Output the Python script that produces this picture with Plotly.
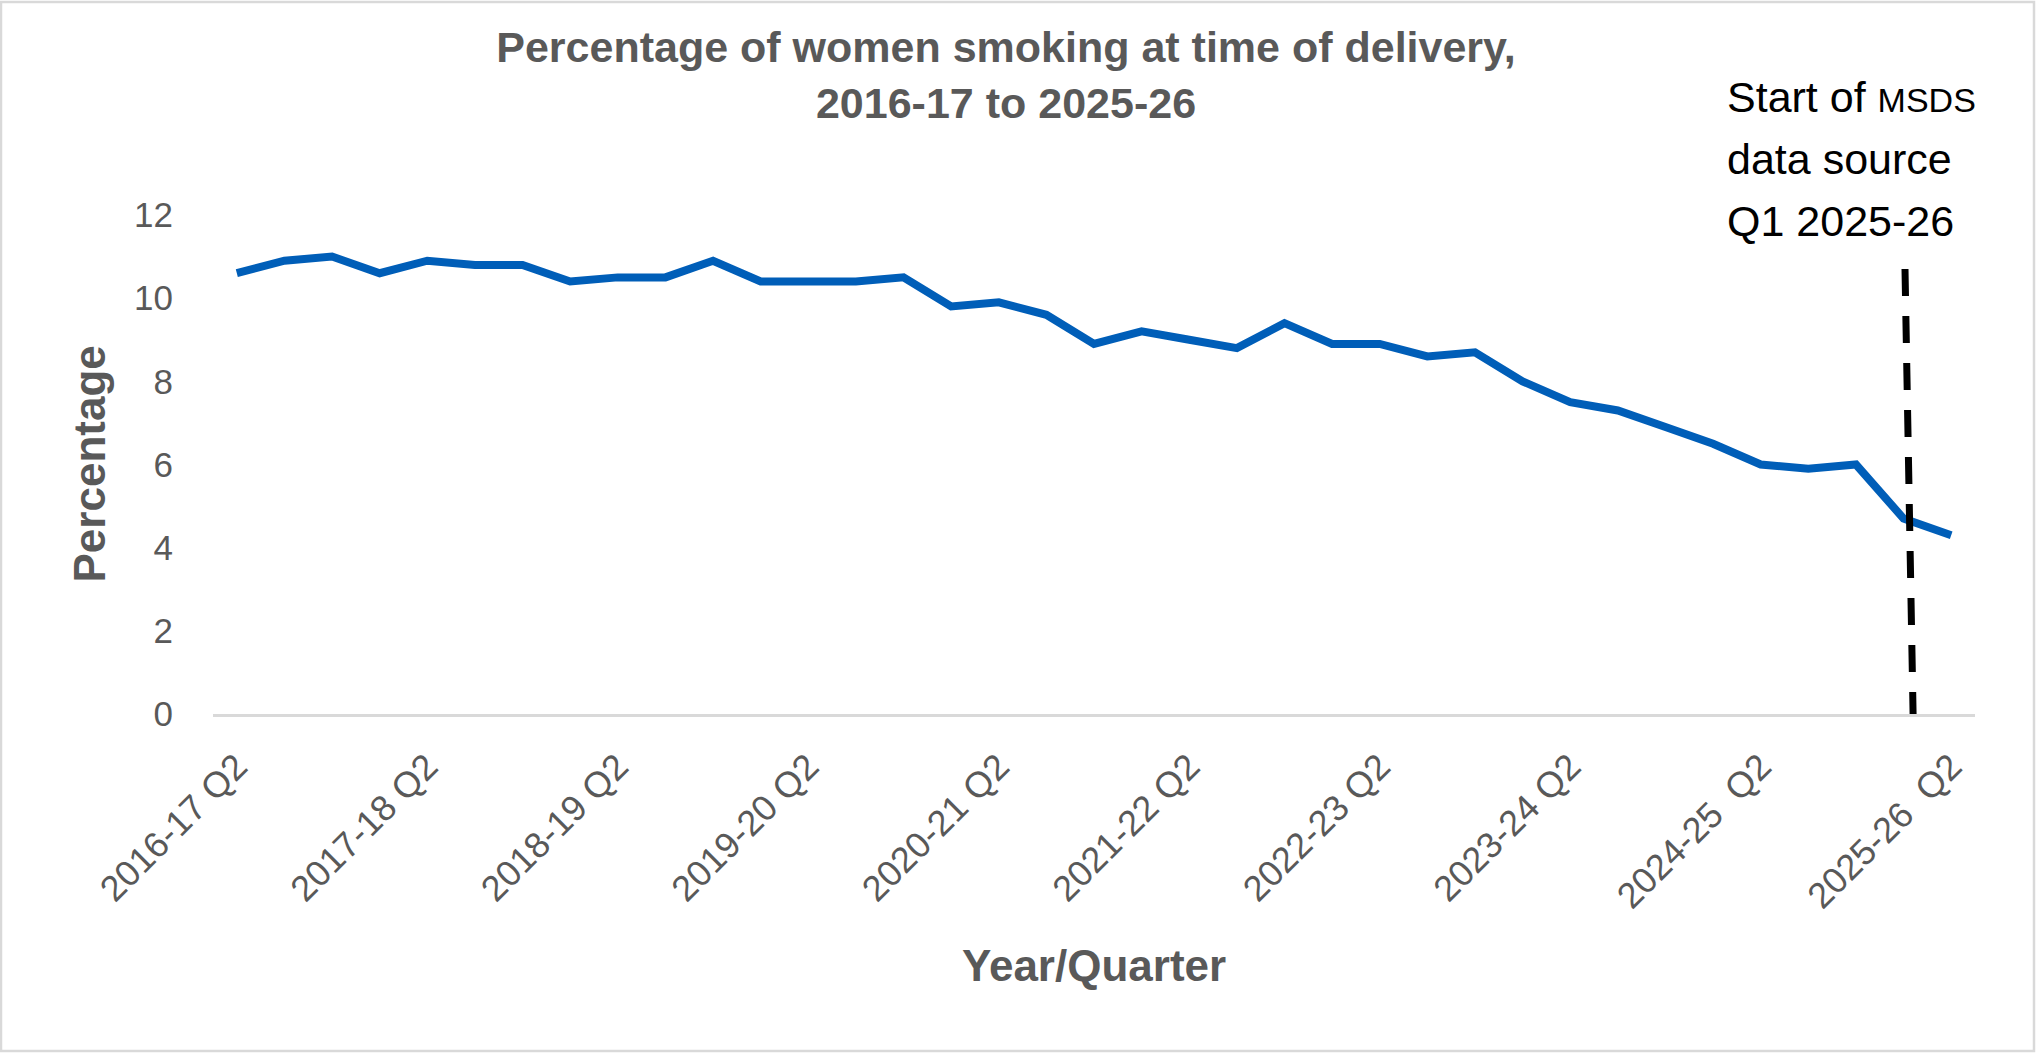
import plotly.graph_objects as go

# quarters, 2016-17 Q2 .. 2025-26 Q2
quarters = [
    "2016-17 Q2", "2016-17 Q3", "2016-17 Q4", "2017-18 Q1",
    "2017-18 Q2", "2017-18 Q3", "2017-18 Q4", "2018-19 Q1",
    "2018-19 Q2", "2018-19 Q3", "2018-19 Q4", "2019-20 Q1",
    "2019-20 Q2", "2019-20 Q3", "2019-20 Q4", "2020-21 Q1",
    "2020-21 Q2", "2020-21 Q3", "2020-21 Q4", "2021-22 Q1",
    "2021-22 Q2", "2021-22 Q3", "2021-22 Q4", "2022-23 Q1",
    "2022-23 Q2", "2022-23 Q3", "2022-23 Q4", "2023-24 Q1",
    "2023-24 Q2", "2023-24 Q3", "2023-24 Q4", "2024-25 Q1",
    "2024-25 Q2", "2024-25 Q3", "2024-25 Q4", "2025-26 Q1",
    "2025-26 Q2",
]
pct_smoking = [
    10.6, 10.9, 11.0, 10.6, 10.9, 10.8, 10.8, 10.4, 10.5, 10.5,
    10.9, 10.4, 10.4, 10.4, 10.5, 9.8, 9.9, 9.6, 8.9, 9.2,
    9.0, 8.8, 9.4, 8.9, 8.9, 8.6, 8.7, 8.0, 7.5, 7.3,
    6.9, 6.5, 6.0, 5.9, 6.0, 4.7, 4.3,
]
tick_quarters = quarters[::4]
tick_labels = ["2016-17 Q2", "2017-18 Q2", "2018-19 Q2", "2019-20 Q2", "2020-21 Q2",
               "2021-22 Q2", "2022-23 Q2", "2023-24 Q2", "2024-25  Q2", "2025-26  Q2"]
msds_start = "2025-26 Q1"
note_lines = ["Start of <span style='font-size:34px'>MSDS</span>", "data source", "Q1 2025-26"]

W, H = 2036, 1053
L, R, T, B = 213, 61, 215, 339
PW, PH = W - L - R, H - T - B

FONT = "Liberation Sans, Arial, sans-serif"
GREY = "#595959"


def px_x(px):
    return (px - L) / PW


def px_y(py):
    return (H - B - py) / PH


fig = go.Figure()

fig.add_trace(go.Scatter(
    x=quarters,
    y=pct_smoking,
    mode="lines",
    line=dict(color="#005EB8", width=8),
    showlegend=False,
))

# dashed marker for the MSDS switch (slightly slanted like the original)
xi = quarters.index(msds_start)
fig.add_shape(type="line", xref="x", yref="y",
              x0=xi + 0.03, y0=10.7, x1=xi + 0.2, y1=0,
              line=dict(color="black", width=7, dash="27px,20px"))

# outer chart border
fig.add_shape(type="rect", xref="paper", yref="paper",
              x0=px_x(1), x1=px_x(2034), y0=px_y(1051), y1=px_y(2),
              line=dict(color="#D9D9D9", width=2.5), layer="below")

for i, txt in enumerate(note_lines):
    fig.add_annotation(text=txt, xref="paper", yref="paper",
                       x=px_x(1725), y=px_y(123 + 62 * i),
                       xanchor="left", yanchor="bottom", showarrow=False,
                       font=dict(family=FONT, size=43, color="black"))

fig.add_annotation(text="<b>Percentage</b>", textangle=-90,
                   xref="paper", yref="paper", x=px_x(89), y=0.5,
                   xanchor="center", yanchor="middle", showarrow=False,
                   font=dict(family=FONT, size=44, color=GREY))
fig.add_annotation(text="<b>Year/Quarter</b>",
                   xref="paper", yref="paper", x=0.5, y=px_y(965),
                   xanchor="center", yanchor="middle", showarrow=False,
                   font=dict(family=FONT, size=44, color=GREY))

fig.update_layout(
    width=W, height=H,
    margin=dict(l=L, r=R, t=T, b=B),
    paper_bgcolor="white",
    plot_bgcolor="white",
    title=dict(
        text="<b>Percentage of women smoking at time of delivery,<br>2016-17 to 2025-26</b>",
        x=1006 / W, xanchor="center", xref="container",
        y=1 - 62 / H, yanchor="middle", yref="container",
        font=dict(family=FONT, size=43, color=GREY),
    ),
    xaxis=dict(
        type="category",
        categoryorder="array", categoryarray=quarters,
        range=[-0.5, len(quarters) - 0.5],
        tickmode="array", tickvals=tick_quarters, ticktext=tick_labels,
        tickangle=-45,
        tickfont=dict(family=FONT, size=36, color=GREY),
        ticks="", ticklabelstandoff=14,
        showgrid=False, zeroline=False,
        showline=True, linecolor="#D9D9D9", linewidth=3,
    ),
    yaxis=dict(
        range=[0, 12], dtick=2,
        tickfont=dict(family=FONT, size=35, color=GREY),
        ticks="", ticklabelstandoff=39,
        showgrid=False, zeroline=False, showline=False,
    ),
)

# drop the browser's default body margin so the figure sits at the page origin
fig.write_html("out.html", config={"displayModeBar": False},
               post_script="document.body.style.margin='0';")
